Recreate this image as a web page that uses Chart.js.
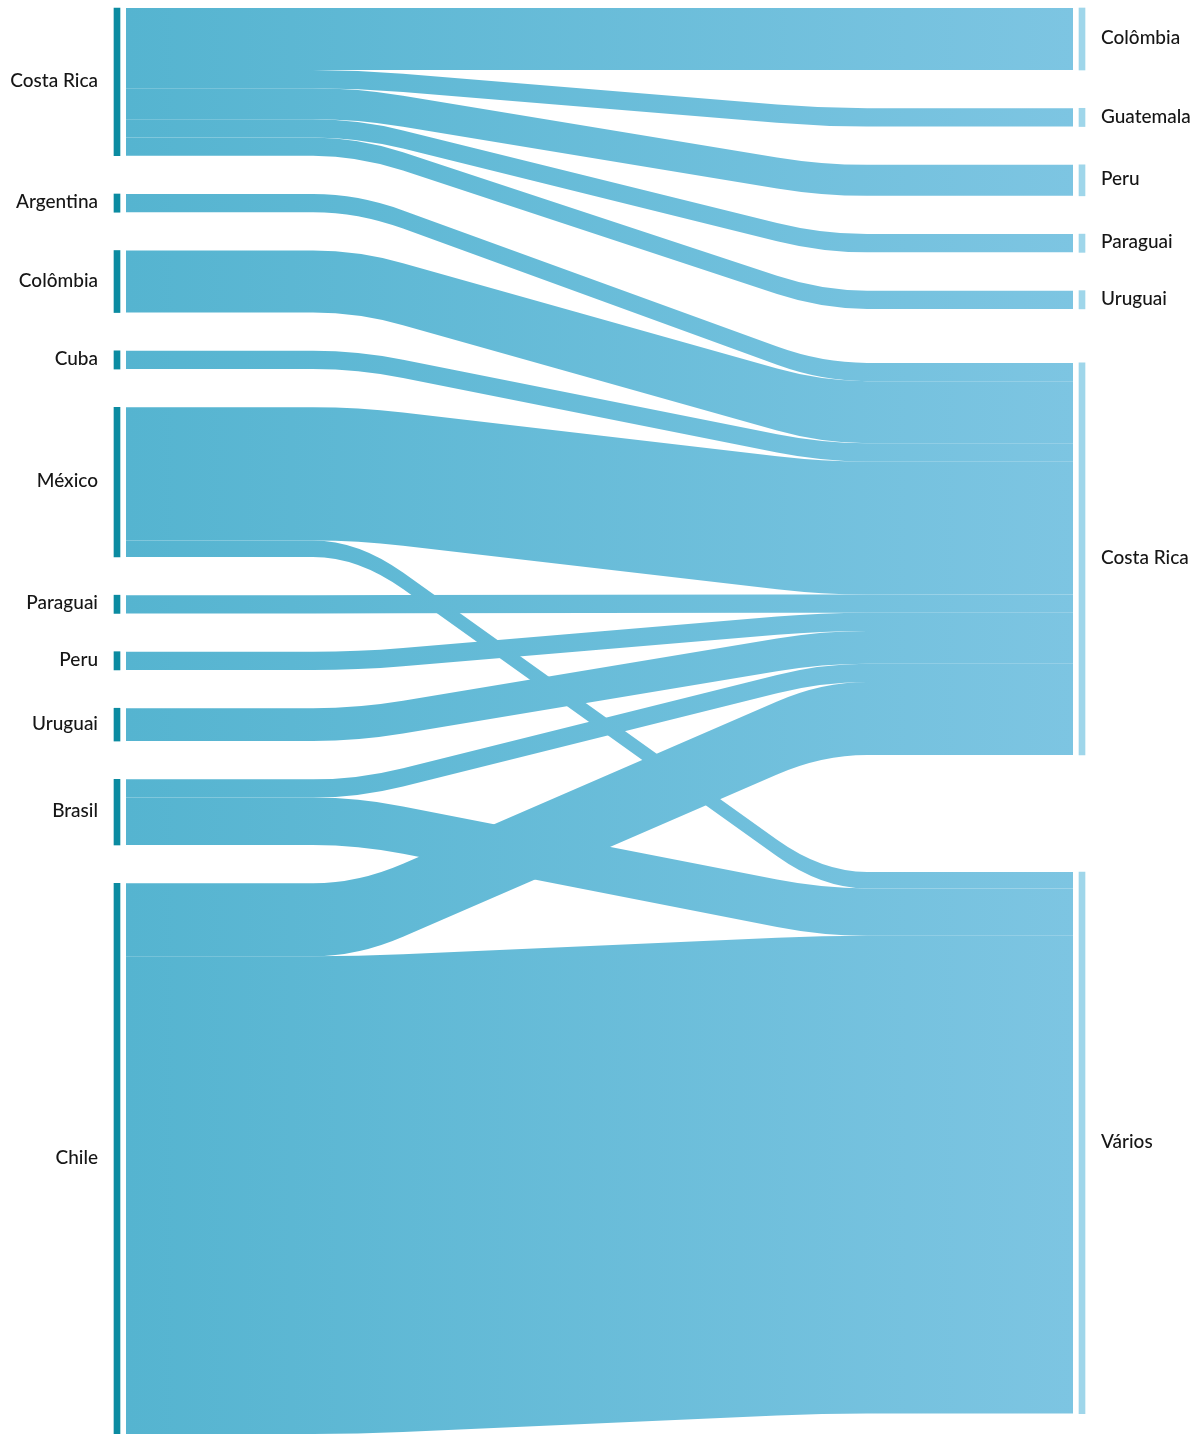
<!DOCTYPE html>
<html>
<head>
<meta charset="utf-8">
<script src="https://cdn.jsdelivr.net/npm/chart.js@4.4.1/dist/chart.umd.min.js"></script>
<style>
  html, body { margin: 0; padding: 0; background: #ffffff; }
  #wrap { width: 1203px; height: 1434px; }
</style>
</head>
<body>
<div id="wrap"><canvas id="c" width="1203" height="1434"></canvas></div>
<script>
// ---- Data ----
const leftNodes  = ['Costa Rica', 'Argentina', 'Colômbia', 'Cuba', 'México', 'Paraguai', 'Peru', 'Uruguai', 'Brasil', 'Chile'];
const rightNodes = ['Colômbia', 'Guatemala', 'Peru', 'Paraguai', 'Uruguai', 'Costa Rica', 'Vários'];
const linkSources = ['Costa Rica', 'Costa Rica', 'Costa Rica', 'Costa Rica', 'Costa Rica',
                     'Argentina', 'Colômbia', 'Cuba', 'México', 'México', 'Paraguai', 'Peru', 'Uruguai',
                     'Brasil', 'Brasil', 'Chile', 'Chile'];
const linkTargets = ['Colômbia', 'Guatemala', 'Peru', 'Paraguai', 'Uruguai',
                     'Costa Rica', 'Costa Rica', 'Costa Rica', 'Costa Rica', 'Vários', 'Costa Rica', 'Costa Rica', 'Costa Rica',
                     'Costa Rica', 'Vários', 'Costa Rica', 'Vários'];
const linkValues  = [34, 10, 17, 10, 10,
                     10, 34, 10, 73, 9, 10, 10, 18,
                     10, 26, 40, 262];

// ---- Layout settings (style) ----
const NODE_PAD = 21;          // gap between nodes, in value units
const NODE_W = 6;             // node bar width, px
const NODE_GAP = 6;           // gap between node bar and link, px
const LABEL_GAP = 16;         // gap between bar and label, px
const BEND_L = 0.245;         // where the link leaves the source horizontal (fraction of span)
const BEND_R = 0.265;         // where the link joins the target horizontal (fraction of span)
const ROUND = 45;             // rounding of link corners, px

function sum(arr) { return arr.reduce((a, l) => a + l.v, 0); }

function computeLayout() {
  const L = leftNodes.map(n => ({ name: n, out: [], inn: [] }));
  const R = rightNodes.map(n => ({ name: n, out: [], inn: [] }));
  const links = linkValues.map((v, i) => {
    const s = L.find(n => n.name === linkSources[i]);
    const t = R.find(n => n.name === linkTargets[i]);
    const l = { s, t, v };
    s.out.push(l); t.inn.push(l);
    return l;
  });
  [...L, ...R].forEach(n => n.value = Math.max(sum(n.out), sum(n.inn)));
  const colH = c => c.reduce((a, n) => a + n.value, 0) + (c.length - 1) * NODE_PAD;
  const height = Math.max(colH(L), colH(R));

  let y = 0;
  L.forEach(n => { n.y0 = y; n.y1 = y + n.value; y = n.y1 + NODE_PAD; });
  L.forEach(n => {
    n.out.sort((a, b) => R.indexOf(a.t) - R.indexOf(b.t));
    let o = n.y0;
    n.out.forEach(l => { l.sy = o; o += l.v; });
  });
  // right column: place each node where its links are as level as possible
  R.forEach(n => {
    n.inn.sort((a, b) => a.sy - b.sy);
    let off = 0, acc = 0, w = 0;
    n.inn.forEach(l => { acc += (l.sy - off) * l.v; w += l.v; off += l.v; });
    n.y0 = acc / w;
  });
  y = 0;
  R.forEach(n => { if (n.y0 < y) n.y0 = y; n.y1 = n.y0 + n.value; y = n.y1 + NODE_PAD; });
  y = height;
  for (let i = R.length - 1; i >= 0; i--) {
    const n = R[i];
    if (n.y1 > y) { n.y1 = y; n.y0 = y - n.value; }
    y = n.y0 - NODE_PAD;
  }
  R.forEach(n => { let o = n.y0; n.inn.forEach(l => { l.ty = o; o += l.v; }); });
  return { L, R, links, height };
}

const lay = computeLayout();

const linksPlugin = {
  id: 'sankeyLinks',
  beforeDatasetsDraw(chart) {
    const ctx = chart.ctx, xs = chart.scales.x, ys = chart.scales.y;
    const xl = xs.getPixelForValue(0) + NODE_W / 2 + NODE_GAP;
    const xr = xs.getPixelForValue(1) - NODE_W / 2 - NODE_GAP;
    const W = xr - xl, xa = xl + BEND_L * W, xb = xr - BEND_R * W, d = ROUND;
    const grad = ctx.createLinearGradient(xl, 0, xr, 0);
    grad.addColorStop(0, '#55b4d0');
    grad.addColorStop(1, '#7dc5e2');
    ctx.save();
    ctx.fillStyle = grad;
    lay.links.forEach(l => {
      const s0 = ys.getPixelForValue(l.sy), s1 = ys.getPixelForValue(l.sy + l.v);
      const t0 = ys.getPixelForValue(l.ty), t1 = ys.getPixelForValue(l.ty + l.v);
      const m0 = (t0 - s0) / (xb - xa), m1 = (t1 - s1) / (xb - xa);
      ctx.beginPath();
      ctx.moveTo(xl, s0);
      ctx.lineTo(xa - d, s0);
      ctx.quadraticCurveTo(xa, s0, xa + d, s0 + d * m0);
      ctx.lineTo(xb - d, t0 - d * m0);
      ctx.quadraticCurveTo(xb, t0, xb + d, t0);
      ctx.lineTo(xr, t0);
      ctx.lineTo(xr, t1);
      ctx.lineTo(xb + d, t1);
      ctx.quadraticCurveTo(xb, t1, xb - d, t1 - d * m1);
      ctx.lineTo(xa + d, s1 + d * m1);
      ctx.quadraticCurveTo(xa, s1, xa - d, s1);
      ctx.lineTo(xl, s1);
      ctx.closePath();
      ctx.fill();
    });
    ctx.restore();
  }
};

const labelsPlugin = {
  id: 'sankeyLabels',
  afterDatasetsDraw(chart) {
    const ctx = chart.ctx, xs = chart.scales.x, ys = chart.scales.y;
    ctx.save();
    ctx.font = '500 19px Lato';
    ctx.fillStyle = '#161616';
    ctx.textBaseline = 'middle';
    ctx.textAlign = 'right';
    const lx = xs.getPixelForValue(0) - NODE_W / 2 - LABEL_GAP;
    lay.L.forEach(n => ctx.fillText(n.name, lx, ys.getPixelForValue((n.y0 + n.y1) / 2) - 1));
    ctx.textAlign = 'left';
    const rx = xs.getPixelForValue(1) + NODE_W / 2 + LABEL_GAP;
    lay.R.forEach(n => ctx.fillText(n.name, rx, ys.getPixelForValue((n.y0 + n.y1) / 2) - 1));
    ctx.restore();
  }
};

const nodeData = (nodes, x) => nodes.map(n => ({ x, y: [n.y0, n.y1] }));

new Chart(document.getElementById('c'), {
  type: 'bar',
  data: {
    datasets: [
      { label: 'Origem', data: nodeData(lay.L, 0), backgroundColor: '#0b8ba1',
        barThickness: NODE_W, grouped: false, clip: false, borderWidth: 0 },
      { label: 'Destino', data: nodeData(lay.R, 1), backgroundColor: '#9fd6ea',
        barThickness: NODE_W, grouped: false, clip: false, borderWidth: 0 }
    ]
  },
  options: {
    responsive: false,
    animation: false,
    devicePixelRatio: 1,
    layout: { padding: { left: 117, right: 121, top: 8, bottom: 0 } },
    scales: {
      x: { type: 'linear', min: 0, max: 1, offset: false, display: false },
      y: { type: 'linear', min: 0, max: lay.height, reverse: true, display: false }
    },
    plugins: { legend: { display: false }, tooltip: { enabled: false } }
  },
  plugins: [linksPlugin, labelsPlugin]
});
</script>
</body>
</html>
